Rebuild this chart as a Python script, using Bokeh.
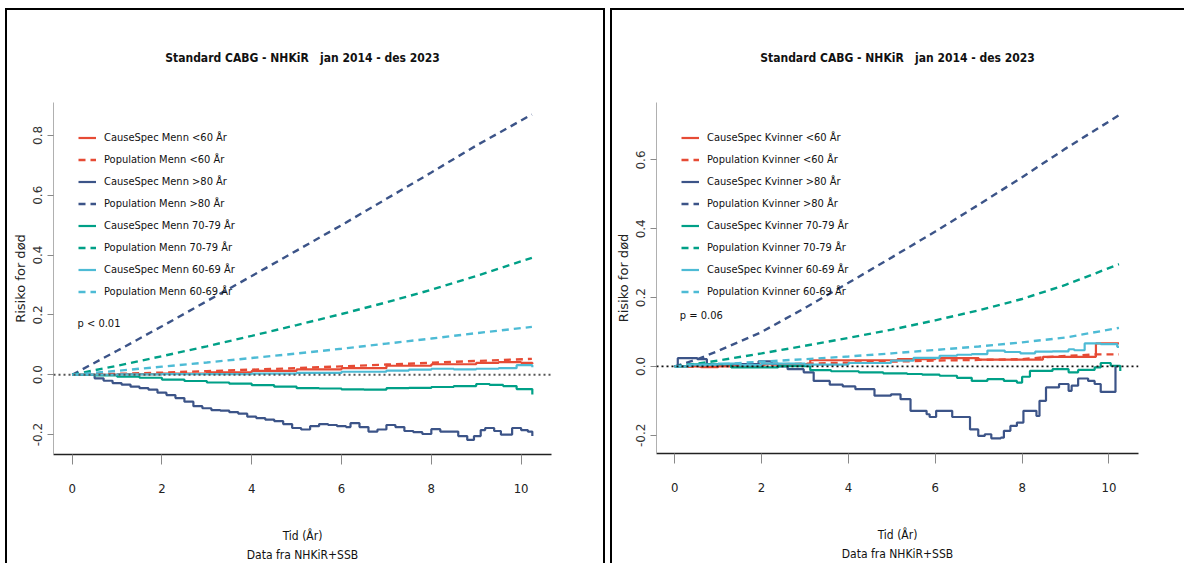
from bokeh.plotting import figure
from bokeh.models import (Range1d, Span, Label, Legend, LegendItem, Title, Div, Spacer,
                          FixedTicker, NumeralTickFormatter)
from bokeh.layouts import row, column
from bokeh.embed import file_html
from bokeh.resources import INLINE

# ---------------- data: Menn (left panel) ----------------
t_m_pop = [0, 1, 2, 3, 4, 5, 6, 7, 8, 9, 10.24]
pop_m_u60 = [0, 0.003, 0.007, 0.012, 0.017, 0.022, 0.028, 0.034, 0.040, 0.046, 0.053]
pop_m_o80 = [0, 0.080, 0.162, 0.246, 0.330, 0.415, 0.500, 0.588, 0.676, 0.766, 0.870]
pop_m_7079 = [0, 0.030, 0.062, 0.095, 0.130, 0.166, 0.203, 0.242, 0.284, 0.330, 0.391]
pop_m_6069 = [0, 0.013, 0.027, 0.041, 0.056, 0.071, 0.087, 0.104, 0.121, 0.139, 0.160]

t_m_u60 = [0, 1, 2, 3, 4, 5, 6, 7, 8, 9, 9.5, 10, 10.25]
cs_m_u60 = [0, 0.002, 0.004, 0.008, 0.013, 0.018, 0.022, 0.030, 0.035, 0.040, 0.042, 0.040, 0.036]

t_m_o80 = [0, 0.3, 0.5, 0.7, 0.9, 1.1, 1.3, 1.5, 1.7, 1.9, 2.1, 2.3, 2.5, 2.7, 2.9, 3.1,
           3.3, 3.5, 3.7, 3.9, 4.1, 4.3, 4.5, 4.7, 4.9, 5.1, 5.3, 5.5, 5.7, 5.9, 6.1, 6.2,
           6.4, 6.6, 6.8, 7.0, 7.2, 7.4, 7.6, 7.8, 8.0, 8.2, 8.4, 8.6, 8.8, 8.95, 9.1, 9.2,
           9.4, 9.55, 9.7, 9.8, 10.0, 10.15, 10.25]
cs_m_o80 = [0, 0, -0.012, -0.020, -0.028, -0.033, -0.040, -0.045, -0.050, -0.060, -0.068,
            -0.078, -0.090, -0.105, -0.112, -0.118, -0.120, -0.125, -0.130, -0.140, -0.145,
            -0.150, -0.155, -0.165, -0.178, -0.183, -0.172, -0.165, -0.168, -0.172, -0.175,
            -0.162, -0.175, -0.190, -0.183, -0.168, -0.175, -0.188, -0.192, -0.198, -0.182,
            -0.190, -0.190, -0.205, -0.218, -0.205, -0.185, -0.178, -0.188, -0.200, -0.200,
            -0.178, -0.185, -0.190, -0.205]

t_m_7079 = [0, 0.5, 1, 1.5, 2, 2.5, 3, 3.5, 4, 4.5, 5, 5.5, 6, 6.5, 7, 7.5, 8, 8.5, 9,
            9.3, 9.6, 9.9, 10.25]
cs_m_7079 = [0, -0.002, -0.006, -0.010, -0.016, -0.021, -0.026, -0.030, -0.035, -0.040,
             -0.045, -0.046, -0.049, -0.050, -0.045, -0.044, -0.041, -0.038, -0.031,
             -0.034, -0.038, -0.048, -0.066]

t_m_6069 = [0, 1, 2, 3, 4, 5, 6, 7, 7.5, 8, 8.5, 9, 9.5, 9.9, 10.25]
cs_m_6069 = [0, 0.001, 0.002, 0.002, 0.004, 0.006, 0.010, 0.014, 0.017, 0.020, 0.018,
             0.020, 0.022, 0.032, 0.025]

# ---------------- data: Kvinner (right panel) ----------------
t_k_pop = [0, 0.5, 1, 2, 3, 4, 5, 6, 7, 8, 9, 10.23]
pop_k_o80 = [0, 0.020, 0.045, 0.100, 0.170, 0.243, 0.317, 0.392, 0.470, 0.550, 0.633, 0.730]
pop_k_7079 = [0, 0.008, 0.017, 0.038, 0.060, 0.083, 0.107, 0.134, 0.163, 0.196, 0.237, 0.297]
pop_k_6069 = [0, 0.003, 0.006, 0.014, 0.021, 0.029, 0.038, 0.048, 0.058, 0.070, 0.084, 0.112]

t_k_pu60 = [0, 0.5, 1, 2, 3, 4, 5, 6, 7, 8, 8.55, 9.7, 10.23]
pop_k_u60 = [0, 0, 0.002, 0.005, 0.008, 0.011, 0.014, 0.017, 0.019, 0.021, 0.027, 0.035, 0.035]

t_k_u60 = [0, 0.6, 1.0, 2.0, 3.12, 5.13, 6.0, 7.0, 8.48, 9.7, 10.23]
cs_k_u60 = [0, -0.002, 0.0, 0.007, 0.018, 0.021, 0.024, 0.020, 0.028, 0.067, 0.067]

t_k_6069 = [0, 0.3, 1, 1.5, 2, 3, 4, 4.98, 5.5, 6.1, 6.5, 6.84, 7.2, 7.6, 7.96, 8.3, 8.7,
            9.07, 9.2, 9.44, 9.81, 10.19, 10.23]
cs_k_6069 = [0, 0.005, 0.008, 0.004, 0.008, 0.005, 0.010, 0.017, 0.025, 0.031, 0.034, 0.036,
             0.046, 0.042, 0.038, 0.043, 0.044, 0.050, 0.047, 0.067, 0.065, 0.057, 0.057]

t_k_7079 = [0, 0.3, 0.9, 1.3, 2.0, 2.38, 3.12, 3.6, 4.24, 4.8, 5.35, 5.7, 6.1, 6.5, 6.84,
            7.2, 7.58, 7.88, 8.0, 8.18, 8.7, 9.07, 9.29, 9.67, 9.81, 10.04, 10.26]
cs_k_7079 = [0, 0.006, 0.007, -0.003, -0.003, 0.001, -0.011, -0.014, -0.017, -0.020, -0.022,
             -0.024, -0.027, -0.033, -0.042, -0.037, -0.042, -0.047, -0.030, -0.013, -0.008,
             -0.017, -0.010, -0.003, 0.010, 0.002, -0.013]

t_k_o80 = [0, 0.07, 0.52, 0.74, 1.78, 1.93, 2.23, 2.38, 2.6, 2.97, 3.2, 3.57, 3.87, 4.16,
           4.6, 4.98, 5.2, 5.43, 5.8, 5.87, 6.02, 6.39, 6.77, 6.8, 6.99, 7.14, 7.29, 7.51,
           7.58, 7.73, 7.88, 8.03, 8.33, 8.4, 8.55, 8.85, 9.07, 9.14, 9.29, 9.52, 9.67, 9.81,
           10.15, 10.2]
cs_k_o80 = [0, 0.024, 0.021, 0.007, 0.007, 0.015, 0.008, 0.0, -0.008, -0.017, -0.042, -0.053,
            -0.058, -0.066, -0.085, -0.081, -0.095, -0.129, -0.139, -0.147, -0.129, -0.147,
            -0.147, -0.183, -0.202, -0.197, -0.209, -0.207, -0.187, -0.173, -0.163, -0.129,
            -0.144, -0.100, -0.061, -0.051, -0.071, -0.056, -0.035, -0.042, -0.051, -0.074,
            0.0, 0.0]

x_ticks = [0, 2, 4, 6, 8, 10]
y_ticks_m = [-0.2, 0.0, 0.2, 0.4, 0.6, 0.8]
y_ticks_k = [-0.2, 0.0, 0.2, 0.4, 0.6]

main_title = "Standard CABG - NHKiR\u00a0\u00a0\u00a0jan 2014 - des 2023"
x_label = "Tid (År)"
x_sub = "Data fra NHKiR+SSB"
y_label = "Risiko for død"

RED = "#E64B35"
NAVY = "#3C5488"
TEAL = "#00A087"
LBLUE = "#4DBBD5"

NARROW = "DejaVu Sans Condensed, Liberation Sans, sans-serif"
REG = "DejaVu Sans"
DASH = "7 5"


def panel(width, mb_left, mb_right, mb_bottom, xr, yr, yticks, data, pval, ppos, zero_col):
    p = figure(width=width, height=553, output_backend="svg", toolbar_location=None,
               x_range=Range1d(*xr), y_range=Range1d(*yr),
               min_border_left=mb_left, min_border_right=mb_right,
               min_border_top=92, min_border_bottom=mb_bottom)
    p.outline_line_color = None
    p.grid.visible = False
    p.background_fill_color = "white"
    p.border_fill_color = "white"

    p.title.text = main_title
    p.title.align = "center"
    p.title.text_font = NARROW
    p.title.text_font_style = "bold"
    p.title.text_font_size = "12px"
    p.title.text_color = "#111111"
    p.title.standoff = 76

    # axes
    p.xaxis.ticker = FixedTicker(ticks=x_ticks)
    p.xaxis.axis_line_color = "#222222"
    p.xaxis.axis_line_width = 1.6
    p.xaxis.major_tick_line_color = "#888888"
    p.xaxis.major_tick_out = 10
    p.xaxis.major_tick_in = 0
    p.xaxis.minor_tick_line_color = None
    p.xaxis.major_label_text_font = NARROW
    p.xaxis.major_label_text_font_size = "13px"
    p.xaxis.major_label_text_color = "#222222"
    p.xaxis.major_label_standoff = 19
    p.xaxis.axis_label = x_label
    p.xaxis.axis_label_text_font = NARROW
    p.xaxis.axis_label_text_font_style = "normal"
    p.xaxis.axis_label_text_font_size = "12px"
    p.xaxis.axis_label_text_color = "#111111"
    p.xaxis.axis_label_standoff = 33

    p.add_layout(Title(text=x_sub, align="center", text_font=NARROW, text_font_style="normal",
                       text_font_size="12px", text_color="#111111", standoff=0), "below")

    p.yaxis.ticker = FixedTicker(ticks=yticks)
    p.yaxis.formatter = NumeralTickFormatter(format="0.0")
    p.yaxis.axis_line_color = "#b0b0b0"
    p.yaxis.axis_line_width = 1
    p.yaxis.major_tick_line_color = "#888888"
    p.yaxis.major_tick_out = 6
    p.yaxis.major_tick_in = 0
    p.yaxis.minor_tick_line_color = None
    p.yaxis.major_label_orientation = "vertical"
    p.yaxis.major_label_text_font = REG
    p.yaxis.major_label_text_font_size = "12px"
    p.yaxis.major_label_text_color = "#333333"
    p.yaxis.major_label_standoff = 5
    p.yaxis.axis_label = y_label
    p.yaxis.axis_label_text_font = REG
    p.yaxis.axis_label_text_font_style = "normal"
    p.yaxis.axis_label_text_font_size = "13px"
    p.yaxis.axis_label_text_color = "#222222"
    p.yaxis.axis_label_standoff = 3

    p.add_layout(Span(location=0, dimension="width", line_color=zero_col,
                      line_dash="2 3", line_width=1.8))

    items = []
    for (lab, t, v, col, dashed) in data:
        if dashed:
            r = p.line(t, v, line_color=col, line_width=2.4, line_dash=DASH)
        else:
            r = p.step(t, v, mode="after", line_color=col, line_width=2.2)
        items.append(LegendItem(label=lab, renderers=[r]))

    leg = Legend(items=items, location="top_left", margin=0, padding=25, spacing=1,
                 label_height=21, glyph_height=21, glyph_width=18, label_standoff=8,
                 border_line_alpha=0, background_fill_alpha=0,
                 label_text_font=NARROW, label_text_font_size="11px",
                 label_text_color="#111111")
    p.add_layout(leg)

    p.add_layout(Label(x=ppos[0], y=ppos[1], text=pval, text_align="left",
                       text_baseline="middle", text_font=NARROW, text_font_size="11px",
                       text_color="#111111"))
    return p


data_m = [
    ("CauseSpec Menn <60 År", t_m_u60, cs_m_u60, RED, False),
    ("Population Menn <60 År", t_m_pop, pop_m_u60, RED, True),
    ("CauseSpec Menn >80 År", t_m_o80, cs_m_o80, NAVY, False),
    ("Population Menn >80 År", t_m_pop, pop_m_o80, NAVY, True),
    ("CauseSpec Menn 70-79 År", t_m_7079, cs_m_7079, TEAL, False),
    ("Population Menn 70-79 År", t_m_pop, pop_m_7079, TEAL, True),
    ("CauseSpec Menn 60-69 År", t_m_6069, cs_m_6069, LBLUE, False),
    ("Population Menn 60-69 År", t_m_pop, pop_m_6069, LBLUE, True),
]
data_k = [
    ("CauseSpec Kvinner <60 År", t_k_u60, cs_k_u60, RED, False),
    ("Population Kvinner <60 År", t_k_pu60, pop_k_u60, RED, True),
    ("CauseSpec Kvinner >80 År", t_k_o80, cs_k_o80, NAVY, False),
    ("Population Kvinner >80 År", t_k_pop, pop_k_o80, NAVY, True),
    ("CauseSpec Kvinner 70-79 År", t_k_7079, cs_k_7079, TEAL, False),
    ("Population Kvinner 70-79 År", t_k_pop, pop_k_7079, TEAL, True),
    ("CauseSpec Kvinner 60-69 År", t_k_6069, cs_k_6069, LBLUE, False),
    ("Population Kvinner 60-69 År", t_k_pop, pop_k_6069, LBLUE, True),
]

p1 = panel(596, 46, 52, 109, (-0.416, 10.677), (-0.2666, 0.910), y_ticks_m, data_m,
           "p < 0.01", (0.12, 0.1716), "#555555")
p2 = panel(572, 44, 46, 110, (-0.42, 10.68), (-0.253, 0.767), y_ticks_k, data_k,
           "p = 0.06", (0.118, 0.147), "#111111")


def bar(w, h):
    return Div(text="", width=w, height=h, margin=0,
               styles={"background-color": "black"})


left_block = column(bar(600, 2), row(bar(2, 553), p1, bar(2, 553), spacing=0), spacing=0)
right_block = column(bar(574, 2), row(bar(2, 553), p2, spacing=0), spacing=0)
layout = column(Spacer(width=1184, height=8, margin=0),
                row(Spacer(width=5, height=555, margin=0), left_block,
                    Spacer(width=5, height=555, margin=0), right_block, spacing=0),
                spacing=0)
open("out.html", "w").write(file_html(layout, INLINE))
